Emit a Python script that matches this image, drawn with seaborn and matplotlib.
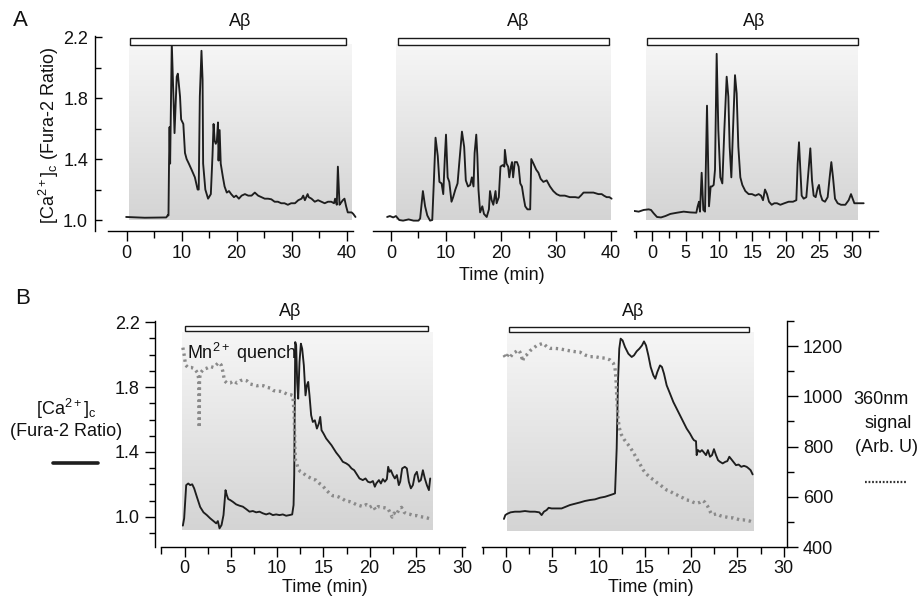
import numpy as np
import pandas as pd
import matplotlib
matplotlib.use("Agg")
import matplotlib.pyplot as plt
import seaborn as sns
from matplotlib.patches import Rectangle
from matplotlib.lines import Line2D
from matplotlib.colors import LinearSegmentedColormap
from matplotlib.ticker import FixedLocator, NullLocator

# ---------------- data ----------------
# Panel A, trace 1: time (min) and Fura-2 ratio
a1_time = [-0.1, 3.3, 7.2, 7.5, 7.6, 7.7, 7.8, 7.9, 8.2, 8.5, 8.7, 9.1, 9.3, 9.7, 9.9, 10.3, 10.6, 10.9,
           11.3, 11.8, 12.4, 12.9, 13.1, 13.3, 13.6, 13.8, 13.9, 14.3, 14.8, 15.3, 15.6, 15.8, 16.0, 16.2,
           16.4, 16.6, 16.7, 16.9, 17.1, 17.5, 17.8, 18.2, 18.6, 19.0, 19.5, 19.9, 20.4, 20.9, 21.5, 22.1,
           22.7, 23.3, 23.9, 24.5, 25.1, 25.7, 26.3, 26.9, 27.5, 28.1, 28.7, 29.3, 29.9, 30.6, 31.2, 31.8,
           32.1, 32.4, 32.9, 33.1, 33.6, 34.2, 34.8, 35.4, 36.0, 36.6, 37.2, 37.7, 37.9, 38.2, 38.4, 38.7,
           38.9, 39.3, 39.6, 39.9, 40.2, 40.9, 41.2, 41.6]
a1_ratio = [1.02, 1.015, 1.017, 1.033, 1.03, 1.37, 1.61, 1.37, 2.16, 1.81, 1.57, 1.94, 1.96, 1.81, 1.66,
            1.63, 1.44, 1.40, 1.37, 1.33, 1.28, 1.20, 1.20, 1.81, 2.11, 1.92, 1.37, 1.20, 1.14, 1.17, 1.42,
            1.63, 1.52, 1.50, 1.52, 1.64, 1.39, 1.59, 1.37, 1.28, 1.22, 1.18, 1.19, 1.17, 1.15, 1.16, 1.14,
            1.16, 1.17, 1.16, 1.16, 1.18, 1.16, 1.15, 1.14, 1.14, 1.136, 1.12, 1.12, 1.11, 1.11, 1.10, 1.11,
            1.11, 1.13, 1.14, 1.16, 1.13, 1.17, 1.15, 1.14, 1.12, 1.13, 1.12, 1.11, 1.12, 1.12, 1.11, 1.14,
            1.10, 1.35, 1.10, 1.11, 1.13, 1.14, 1.09, 1.05, 1.05, 1.04, 1.02]

# Panel A, trace 2
a2_time = [-0.7, -0.2, 0.4, 0.9, 1.5, 2.2, 3.2, 4.1, 5.0, 5.3, 5.8, 6.2, 6.6, 7.1, 7.5, 7.8, 8.1, 8.5, 8.8,
           9.2, 9.5, 9.8, 10.0, 10.3, 10.6, 11.0, 11.3, 11.7, 12.1, 12.4, 12.9, 13.3, 13.6, 14.0, 14.4, 14.7,
           15.0, 15.2, 15.5, 15.7, 15.9, 16.2, 16.6, 16.9, 17.4, 17.8, 18.0, 18.3, 18.6, 19.0, 19.2, 19.6,
           19.9, 20.3, 20.6, 20.7, 21.0, 21.3, 21.5, 21.8, 22.0, 22.2, 22.5, 22.9, 23.2, 23.5, 23.8, 24.1,
           24.4, 24.8, 25.3, 25.5, 25.9, 26.4, 26.8, 27.2, 27.7, 28.3, 28.9, 29.5, 30.1, 30.7, 31.6, 32.5,
           33.5, 34.1, 34.5, 35.0, 35.9, 36.8, 37.7, 38.3, 38.7, 39.2, 39.7, 40.1]
a2_ratio = [1.02, 1.026, 1.017, 1.026, 1.0, 0.996, 1.004, 0.996, 0.996, 1.01, 1.19, 1.09, 1.03, 0.996, 1.0,
            1.26, 1.54, 1.42, 1.25, 1.24, 1.17, 1.42, 1.56, 1.28, 1.25, 1.12, 1.15, 1.20, 1.24, 1.37, 1.58,
            1.48, 1.26, 1.22, 1.23, 1.28, 1.22, 1.44, 1.56, 1.42, 1.20, 1.05, 1.09, 1.04, 1.02, 1.07, 1.19,
            1.13, 1.10, 1.19, 1.11, 1.15, 1.35, 1.36, 1.35, 1.46, 1.37, 1.35, 1.28, 1.35, 1.38, 1.28, 1.38,
            1.38, 1.35, 1.24, 1.22, 1.15, 1.09, 1.07, 1.07, 1.40, 1.37, 1.33, 1.31, 1.27, 1.25, 1.26, 1.22,
            1.19, 1.17, 1.16, 1.16, 1.15, 1.15, 1.146, 1.16, 1.18, 1.18, 1.18, 1.17, 1.17, 1.16, 1.15, 1.15,
            1.14]

# Panel A, trace 3
a3_time = [-2.8, -2.05, -1.3, -0.55, -0.2, 0.2, 0.7, 1.3, 1.95, 2.7, 3.7, 4.7, 5.7, 6.6, 6.8, 7.0, 7.15,
           7.4, 7.65, 7.9, 8.2, 8.5, 8.75, 8.95, 9.2, 9.4, 9.65, 9.9, 10.2, 10.5, 10.8, 11.15, 11.4, 11.6,
           11.85, 12.1, 12.4, 12.65, 12.9, 13.2, 13.5, 13.95, 14.45, 14.95, 15.45, 15.95, 16.3, 16.6, 16.9,
           17.2, 17.5, 17.9, 18.3, 18.7, 19.2, 19.8, 20.45, 21.1, 21.6, 21.8, 22.0, 22.2, 22.4, 22.7, 23.1,
           23.4, 23.7, 23.95, 24.2, 24.5, 24.8, 25.0, 25.2, 25.5, 25.9, 26.3, 26.6, 26.85, 27.1, 27.4, 27.8,
           28.3, 28.95, 29.45, 29.8, 30.05, 30.3, 30.95, 31.7]
a3_ratio = [1.06, 1.055, 1.066, 1.07, 1.066, 1.044, 1.02, 1.017, 1.026, 1.04, 1.048, 1.055, 1.05, 1.048,
            1.09, 1.12, 1.055, 1.31, 1.066, 1.055, 1.75, 1.09, 1.22, 1.22, 1.23, 1.33, 2.09, 1.59, 1.28,
            1.24, 1.59, 1.94, 1.81, 1.48, 1.28, 1.59, 1.95, 1.83, 1.48, 1.28, 1.23, 1.19, 1.17, 1.17, 1.16,
            1.17, 1.16, 1.13, 1.20, 1.17, 1.12, 1.10, 1.11, 1.11, 1.10, 1.11, 1.12, 1.12, 1.13, 1.37, 1.51,
            1.33, 1.16, 1.14, 1.15, 1.31, 1.47, 1.26, 1.16, 1.15, 1.21, 1.23, 1.17, 1.13, 1.12, 1.15, 1.28,
            1.38, 1.28, 1.14, 1.11, 1.10, 1.10, 1.13, 1.17, 1.14, 1.11, 1.11, 1.11]

# Panel B, cell 1: Fura-2 ratio (solid) and 360 nm signal (dotted)
b1_time = [-0.18, -0.04, 0.18, 0.4, 0.61, 0.83, 1.04, 1.33, 1.69, 2.05, 2.41, 2.77, 3.13, 3.42, 3.6, 3.78,
           4.0, 4.21, 4.43, 4.57, 4.72, 4.93, 5.22, 5.58, 5.94, 6.3, 6.66, 7.02, 7.38, 7.74, 8.1, 8.46, 8.82,
           9.18, 9.54, 9.9, 10.26, 10.62, 10.98, 11.34, 11.63, 11.78, 11.85, 11.96, 12.06, 12.17, 12.28,
           12.42, 12.57, 12.71, 12.89, 13.07, 13.22, 13.36, 13.5, 13.68, 13.86, 14.08, 14.3, 14.51, 14.66,
           14.8, 15.02, 15.3, 15.59, 15.88, 16.1, 16.38, 16.74, 17.1, 17.47, 17.75, 18.04, 18.33, 18.62,
           18.9, 19.26, 19.55, 19.81, 20.06, 20.35, 20.56, 20.71, 21.0, 21.21, 21.43, 21.64, 21.86, 22.0,
           22.15, 22.29, 22.51, 22.72, 22.94, 23.15, 23.3, 23.51, 23.8, 24.02, 24.23, 24.45, 24.67, 24.88,
           25.1, 25.32, 25.53, 25.75, 25.96, 26.18, 26.4, 26.54]
b1_ratio = [0.945, 0.99, 1.195, 1.205, 1.195, 1.20, 1.175, 1.123, 1.06, 1.027, 1.01, 0.99, 0.973, 0.959,
            0.973, 0.928, 0.949, 1.01, 1.164, 1.133, 1.109, 1.103, 1.092, 1.076, 1.068, 1.062, 1.047, 1.031,
            1.035, 1.027, 1.031, 1.021, 1.014, 1.021, 1.01, 1.014, 1.01, 1.014, 1.006, 1.01, 1.014, 1.072,
            1.257, 2.078, 2.057, 1.832, 1.729, 1.955, 2.068, 2.037, 1.934, 1.749, 1.811, 1.832, 1.749, 1.626,
            1.585, 1.595, 1.544, 1.575, 1.616, 1.534, 1.513, 1.483, 1.462, 1.441, 1.421, 1.396, 1.370, 1.339,
            1.329, 1.318, 1.298, 1.287, 1.261, 1.236, 1.226, 1.236, 1.216, 1.211, 1.220, 1.185, 1.205, 1.226,
            1.205, 1.232, 1.216, 1.232, 1.308, 1.277, 1.287, 1.257, 1.236, 1.257, 1.195, 1.216, 1.298, 1.308,
            1.298, 1.216, 1.175, 1.195, 1.257, 1.277, 1.216, 1.226, 1.287, 1.236, 1.195, 1.164, 1.236]
b1_sig_time = [-0.18, -0.04, 0.11, 0.36, 0.72, 1.08, 1.44, 1.55, 1.59, 1.62, 1.69, 2.05, 2.41, 2.77, 3.13,
               3.42, 3.71, 3.96, 4.14, 4.32, 4.57, 4.93, 5.29, 5.65, 6.01, 6.37, 6.73, 7.09, 7.45, 7.81,
               8.17, 8.53, 8.89, 9.25, 9.61, 9.97, 10.33, 10.7, 11.06, 11.42, 11.7, 11.85, 11.92, 11.99,
               12.14, 12.28, 12.5, 12.78, 13.14, 13.5, 13.86, 14.22, 14.58, 14.94, 15.3, 15.66, 16.02,
               16.38, 16.74, 17.1, 17.47, 17.83, 18.19, 18.55, 18.9, 19.27, 19.63, 19.99, 20.35, 20.63,
               20.92, 21.28, 21.64, 22.0, 22.22, 22.43, 22.65, 22.87, 23.15, 23.44, 23.73, 24.02, 24.38,
               24.74, 25.1, 25.46, 25.82, 26.18, 26.54]
b1_signal = [1194, 1165, 1125, 1115, 1115, 1110, 1092, 1062, 875, 1062, 1092, 1108, 1112, 1119, 1115, 1125,
             1135, 1125, 1099, 1062, 1053, 1053, 1062, 1053, 1062, 1066, 1062, 1049, 1046, 1042, 1044, 1042,
             1036, 1033, 1023, 1020, 1020, 1016, 1009, 1007, 1003, 928, 798, 743, 730, 710, 701, 695, 684,
             677, 670, 666, 653, 643, 627, 614, 604, 603, 598, 591, 582, 581, 576, 569, 565, 561, 569, 558,
             565, 548, 561, 558, 556, 552, 535, 519, 535, 528, 548, 558, 538, 532, 530, 525, 525, 521, 519,
             516, 512]

# Panel B, cell 2
b2_time = [-0.22, -0.07, 0.14, 0.5, 0.97, 1.51, 2.05, 2.59, 3.13, 3.6, 3.85, 4.1, 4.39, 4.61, 4.93, 5.47,
           6.01, 6.48, 6.91, 7.45, 7.99, 8.53, 9.07, 9.61, 10.15, 10.7, 11.24, 11.6, 11.78, 11.96, 12.1,
           12.24, 12.39, 12.6, 12.86, 13.22, 13.58, 13.83, 14.12, 14.41, 14.69, 14.91, 15.13, 15.38, 15.63,
           15.92, 16.13, 16.35, 16.64, 16.85, 17.07, 17.36, 17.72, 18.08, 18.44, 18.8, 19.16, 19.52, 19.88,
           20.17, 20.31, 20.53, 20.6, 20.74, 20.96, 21.17, 21.39, 21.61, 21.82, 22.04, 22.26, 22.47, 22.69,
           22.91, 23.12, 23.41, 23.7, 23.91, 24.13, 24.34, 24.56, 24.85, 25.13, 25.42, 25.71, 26.0, 26.22,
           26.43, 26.65]
b2_ratio = [0.986, 1.01, 1.018, 1.027, 1.031, 1.031, 1.035, 1.031, 1.031, 1.027, 1.01, 1.031, 1.041, 1.055,
            1.051, 1.051, 1.051, 1.062, 1.072, 1.080, 1.088, 1.097, 1.103, 1.107, 1.117, 1.123, 1.133, 1.14,
            1.144, 1.421, 1.832, 2.037, 2.099, 2.088, 2.047, 2.006, 1.986, 1.996, 2.021, 2.037, 2.057, 2.082,
            2.057, 1.996, 1.924, 1.873, 1.852, 1.893, 1.934, 1.924, 1.883, 1.811, 1.760, 1.708, 1.667, 1.626,
            1.585, 1.544, 1.513, 1.483, 1.472, 1.466, 1.380, 1.411, 1.400, 1.411, 1.396, 1.380, 1.411, 1.370,
            1.380, 1.417, 1.380, 1.349, 1.339, 1.329, 1.339, 1.343, 1.370, 1.355, 1.339, 1.318, 1.322, 1.308,
            1.314, 1.308, 1.298, 1.287, 1.261]
b2_sig_time = [-0.22, 0.0, 0.25, 0.5, 0.79, 1.08, 1.33, 1.51, 1.69, 1.8, 1.94, 2.23, 2.59, 2.95, 3.31,
               3.67, 4.03, 4.39, 4.75, 5.29, 5.83, 6.37, 6.91, 7.45, 7.99, 8.53, 9.07, 9.61, 10.15, 10.7,
               11.24, 11.6, 11.78, 11.88, 11.99, 12.1, 12.24, 12.46, 12.75, 13.04, 13.4, 13.76, 14.12,
               14.48, 14.84, 15.2, 15.56, 15.92, 16.28, 16.64, 17.0, 17.36, 17.72, 18.08, 18.44, 18.8,
               19.16, 19.52, 19.88, 20.24, 20.6, 20.96, 21.25, 21.5, 21.75, 21.97, 22.18, 22.4, 22.76,
               23.12, 23.48, 23.84, 24.2, 24.56, 24.92, 25.28, 25.64, 26.0, 26.36, 26.65]
b2_signal = [1165, 1152, 1168, 1158, 1172, 1178, 1185, 1176, 1158, 1139, 1158, 1165, 1181, 1191, 1202, 1207,
             1211, 1198, 1191, 1191, 1189, 1185, 1181, 1178, 1176, 1165, 1158, 1158, 1154, 1152, 1145, 1132,
             1112, 1073, 980, 914, 875, 848, 829, 815, 798, 776, 753, 730, 706, 690, 677, 668, 657, 648, 637,
             627, 622, 614, 608, 600, 595, 587, 585, 578, 574, 578, 585, 578, 565, 548, 532, 529, 532, 525,
             521, 519, 516, 516, 512, 508, 508, 506, 503, 499]

# tick labels
a_ratio_ticks = [1.0, 1.4, 1.8, 2.2]
b_ratio_ticks = [1.0, 1.4, 1.8, 2.2]
signal_ticks = [400, 600, 800, 1000, 1200]

# ---------------- style ----------------
sns.set_style("ticks")
plt.rcParams['font.family'] = ['Liberation Sans', 'DejaVu Sans']
plt.rcParams['mathtext.fontset'] = 'custom'
plt.rcParams['mathtext.rm'] = 'Liberation Sans'
plt.rcParams['mathtext.it'] = 'Liberation Sans:italic'
plt.rcParams['mathtext.bf'] = 'Liberation Sans:bold'
plt.rcParams['axes.edgecolor'] = 'black'
plt.rcParams['axes.linewidth'] = 1.0
plt.rcParams['xtick.color'] = 'black'
plt.rcParams['ytick.color'] = 'black'
plt.rcParams['text.color'] = '#111111'
plt.rcParams['xtick.labelcolor'] = '#111111'
plt.rcParams['ytick.labelcolor'] = '#111111'

LINE_C = '#1e1e1e'
DOT_C = '#8a8a8a'
SHADE = LinearSegmentedColormap.from_list('shade', ['#d4d4d4', '#f6f6f6'])
FS = 13

W, H = 921, 596
fig = plt.figure(figsize=(W / 100, H / 100), dpi=100)
fig.patch.set_facecolor('white')


def rect(x0, y0, x1, y1):
    return [x0 / W, 1 - y1 / H, (x1 - x0) / W, (y1 - y0) / H]


def fp(x, y):
    return (x / W, 1 - y / H)


def shade(ax, t0, t1, y0, y1):
    grad = np.linspace(0, 1, 256).reshape(-1, 1)
    ax.imshow(grad, extent=[t0, t1, y0, y1], origin='lower', aspect='auto',
              cmap=SHADE, zorder=0, interpolation='bilinear')


def bar(ax, t0, t1, y0, y1):
    ax.add_patch(Rectangle((t0, y0), t1 - t0, y1 - y0, facecolor='white',
                           edgecolor='#1a1a1a', lw=1.0, clip_on=False, zorder=5))


def trace(ax, t, y, dotted=False):
    df = pd.DataFrame({'t': t, 'y': y})
    if dotted:
        sns.lineplot(data=df, x='t', y='y', ax=ax, sort=False, estimator=None,
                     color=DOT_C, lw=2.4, linestyle=(0, (0.7, 1.1)), zorder=3)
    else:
        sns.lineplot(data=df, x='t', y='y', ax=ax, sort=False, estimator=None,
                     color=LINE_C, lw=1.35, zorder=4)
    ax.set_xlabel('')
    ax.set_ylabel('')


# ---------------- panel A ----------------
A_YLIM = (0.928, 2.207)


def style_a(ax, xlim, xbounds, major, minor, left=False):
    ax.set_xlim(*xlim)
    ax.set_ylim(*A_YLIM)
    ax.patch.set_alpha(0)
    for s in ['top', 'right']:
        ax.spines[s].set_visible(False)
    ax.spines['bottom'].set_bounds(*xbounds)
    ax.xaxis.set_major_locator(FixedLocator(major))
    ax.xaxis.set_minor_locator(FixedLocator(minor))
    ax.set_xticklabels([str(int(m)) if float(m).is_integer() else str(m) for m in major])
    ax.tick_params(axis='x', which='major', length=7, width=1, direction='out', labelsize=FS, pad=3)
    ax.tick_params(axis='x', which='minor', length=5, width=1, direction='out')
    if left:
        ax.yaxis.set_major_locator(FixedLocator(a_ratio_ticks))
        ax.yaxis.set_minor_locator(FixedLocator([1.2, 1.6, 2.0]))
        ax.set_yticklabels([f'{v:.1f}' for v in a_ratio_ticks])
        ax.tick_params(axis='y', which='major', length=5, width=1, direction='in', labelsize=FS, pad=5)
        ax.tick_params(axis='y', which='minor', length=4, width=1, direction='in')
    else:
        ax.spines['left'].set_visible(False)
        ax.yaxis.set_major_locator(NullLocator())
        ax.yaxis.set_minor_locator(NullLocator())


axA1 = fig.add_axes(rect(95, 36, 353, 231))
shade(axA1, 0.4, 40.85, 1.0, 2.148)
trace(axA1, a1_time, a1_ratio)
bar(axA1, 0.67, 39.94, 2.148, 2.193)
style_a(axA1, (-5.76, 41.15), (-3.4, 41.15), [0, 10, 20, 30, 40], [5, 15, 25, 35], left=True)
for l in axA1.get_lines():
    l.set_clip_on(False)

axA2 = fig.add_axes(rect(373, 36, 616, 231))
shade(axA2, 0.9, 39.8, 1.0, 2.148)
trace(axA2, a2_time, a2_ratio)
bar(axA2, 1.33, 39.7, 2.148, 2.193)
style_a(axA2, (-3.27, 40.9), (-3.27, 40.9), [0, 10, 20, 30, 40], [5, 15, 25, 35])

axA3 = fig.add_axes(rect(634, 36, 878, 231))
shade(axA3, -0.95, 30.7, 1.0, 2.148)
trace(axA3, a3_time, a3_ratio)
bar(axA3, -0.8, 30.85, 2.148, 2.193)
style_a(axA3, (-2.75, 33.85), (-2.75, 33.85), [0, 5, 10, 15, 20, 25, 30],
        [-2.5, 2.5, 7.5, 12.5, 17.5, 22.5, 27.5, 32.5])

fig.text(*fp(20, 21), 'A', fontsize=16, ha='center', va='center')
fig.text(*fp(240, 22), 'Aβ', fontsize=FS, ha='center', va='center')
fig.text(*fp(518, 22), 'Aβ', fontsize=FS, ha='center', va='center')
fig.text(*fp(754, 22), 'Aβ', fontsize=FS, ha='center', va='center')
fig.text(*fp(502, 275), 'Time (min)', fontsize=FS, ha='center', va='center')
fig.text(*fp(49, 135), '[Ca$^{2+}$]$_\\mathrm{c}$ (Fura-2 Ratio)', fontsize=FS, ha='center',
         va='center', rotation=90)

# ---------------- panel B ----------------
B_YLIM = (0.813, 2.208)
SIG_YLIM = (400, 1300)


def style_b(ax, xlim, xbounds):
    ax.set_xlim(*xlim)
    ax.set_ylim(*B_YLIM)
    for s in ['top', 'right']:
        ax.spines[s].set_visible(False)
    ax.spines['bottom'].set_bounds(*xbounds)
    ax.xaxis.set_major_locator(FixedLocator([0, 5, 10, 15, 20, 25, 30]))
    ax.xaxis.set_minor_locator(FixedLocator([-2.5, 2.5, 7.5, 12.5, 17.5, 22.5, 27.5]))
    ax.set_xticklabels(['0', '5', '10', '15', '20', '25', '30'])
    ax.tick_params(axis='x', which='major', length=7, width=1, direction='out', labelsize=FS, pad=2.5)
    ax.tick_params(axis='x', which='minor', length=5, width=1, direction='out')


axB1 = fig.add_axes(rect(155, 321, 465, 547))
shade(axB1, -0.25, 26.76, 0.92, 2.142)
trace(axB1, b1_time, b1_ratio)
bar(axB1, 0.0, 26.3, 2.148, 2.178)
style_b(axB1, (-3.19, 30.3), (-2.5, 30.3))
axB1.yaxis.set_major_locator(FixedLocator(b_ratio_ticks))
axB1.yaxis.set_minor_locator(FixedLocator([0.9, 1.1, 1.2, 1.3, 1.5, 1.6, 1.7, 1.9, 2.0, 2.1]))
axB1.set_yticklabels([f'{v:.1f}' for v in b_ratio_ticks])
axB1.tick_params(axis='y', which='major', length=7, width=1, direction='out', labelsize=FS, pad=4)
axB1.tick_params(axis='y', which='minor', length=4.5, width=1, direction='out')
twB1 = axB1.twinx()
trace(twB1, b1_sig_time, b1_signal, dotted=True)
twB1.set_ylim(*SIG_YLIM)
for s in twB1.spines.values():
    s.set_visible(False)
twB1.yaxis.set_major_locator(NullLocator())
twB1.yaxis.set_minor_locator(NullLocator())
axB1.set_xlim(-3.19, 30.3)

axB2 = fig.add_axes(rect(482, 321, 787, 547))
shade(axB2, 0.07, 26.65, 0.914, 2.14)
trace(axB2, b2_time, b2_ratio)
bar(axB2, 0.36, 26.3, 2.142, 2.172)
style_b(axB2, (-2.59, 30.36), (-2.59, 30.36))
axB2.spines['left'].set_visible(False)
axB2.yaxis.set_major_locator(NullLocator())
axB2.yaxis.set_minor_locator(NullLocator())
twB2 = axB2.twinx()
trace(twB2, b2_sig_time, b2_signal, dotted=True)
twB2.set_ylim(*SIG_YLIM)
for s in ['top', 'left', 'bottom']:
    twB2.spines[s].set_visible(False)
twB2.spines['right'].set_visible(True)
twB2.yaxis.set_major_locator(FixedLocator(signal_ticks))
twB2.yaxis.set_minor_locator(FixedLocator([500, 700, 900, 1100, 1300]))
twB2.set_yticklabels([str(v) for v in signal_ticks])
twB2.tick_params(axis='y', which='major', length=8, width=1, direction='out', labelsize=FS, pad=3.5)
twB2.tick_params(axis='y', which='minor', length=5, width=1, direction='out')
axB2.set_xlim(-2.59, 30.36)

fig.text(*fp(23, 299), 'B', fontsize=16, ha='center', va='center')
fig.text(*fp(290, 311), 'Aβ', fontsize=FS, ha='center', va='center')
fig.text(*fp(633, 311), 'Aβ', fontsize=FS, ha='center', va='center')
fig.text(*fp(187, 353), 'Mn$^{2+}$ quench', fontsize=FS, ha='left', va='center')
fig.text(*fp(325, 587), 'Time (min)', fontsize=FS, ha='center', va='center')
fig.text(*fp(651, 587), 'Time (min)', fontsize=FS, ha='center', va='center')

fig.text(*fp(66, 409), '[Ca$^{2+}$]$_\\mathrm{c}$', fontsize=FS, ha='center', va='center')
fig.text(*fp(66, 431), '(Fura-2 Ratio)', fontsize=FS, ha='center', va='center')
fig.add_artist(Line2D([53 / W, 98 / W], [1 - 462.7 / H, 1 - 462.7 / H], transform=fig.transFigure,
                      color=LINE_C, lw=2.6))

fig.text(*fp(881, 400), '360nm', fontsize=FS, ha='center', va='center')
fig.text(*fp(888, 423), 'signal', fontsize=FS, ha='center', va='center')
fig.text(*fp(886, 447), '(Arb. U)', fontsize=FS, ha='center', va='center')
fig.add_artist(Line2D([865 / W, 907 / W], [1 - 482 / H, 1 - 482 / H], transform=fig.transFigure,
                      color='#333333', lw=1.6, linestyle=(0, (0.8, 0.8))))

fig.savefig('out.png', dpi=100, facecolor='white')
